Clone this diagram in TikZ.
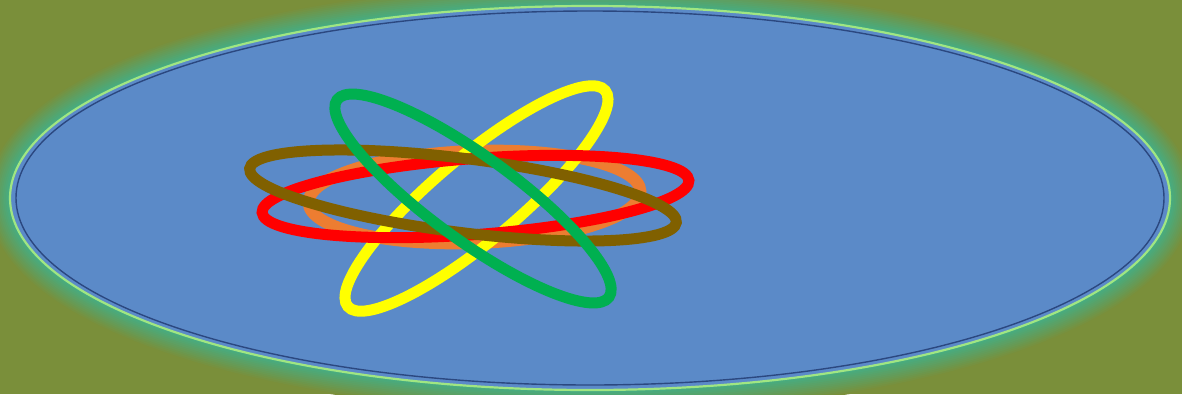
\documentclass[tikz,border=0pt]{standalone}
\definecolor{bg}{RGB}{122,143,58}
\definecolor{glow}{RGB}{72,172,128}
\definecolor{fillblue}{RGB}{91,138,200}
\definecolor{rim}{RGB}{160,230,130}
\definecolor{innerline}{RGB}{28,50,105}
\definecolor{orng}{RGB}{237,125,49}
\definecolor{brwn}{RGB}{128,96,0}
\definecolor{grn}{RGB}{0,176,80}
\definecolor{ylw}{RGB}{255,255,0}
\definecolor{rd}{RGB}{255,0,0}
\begin{document}
\begin{tikzpicture}[x=1pt,y=-1pt, ring/.style={line width=11pt}]
\fill[bg] (0,0) rectangle (1182,394);
\useasboundingbox (0,0) rectangle (1182,394);
\coordinate (c) at (590,198);
\foreach \i in {0,...,12}{
  \pgfmathtruncatemacro{\p}{\i*100/12}
  \pgfmathsetmacro{\w}{48-3.6*\i}
  \draw[line width=\w pt, color=glow!\p!bg] (c) ellipse [x radius=580pt, y radius=192pt];
}
\fill[fillblue] (c) ellipse [x radius=580pt, y radius=192pt];
\draw[rim, line width=2.2pt] (c) ellipse [x radius=580pt, y radius=192pt];
\draw[innerline, line width=1.4pt, opacity=0.75] (c) ellipse [x radius=574pt, y radius=187pt];
% atom
\draw[line width=12pt, orng] (474.5,197) ellipse [x radius=166pt, y radius=46pt, rotate=2];
\draw[ring, ylw] (476.5,198.5) ellipse [x radius=168pt, y radius=42pt, rotate=40];
\draw[ring, rd] (475.5,196.5) ellipse [x radius=214pt, y radius=38pt, rotate=4.3];
\draw[ring, brwn] (463,195.5) ellipse [x radius=215pt, y radius=37pt, rotate=-7.2];
\draw[ring, grn] (473,198.5) ellipse [x radius=168pt, y radius=42pt, rotate=-36];
\end{tikzpicture}
\end{document}
